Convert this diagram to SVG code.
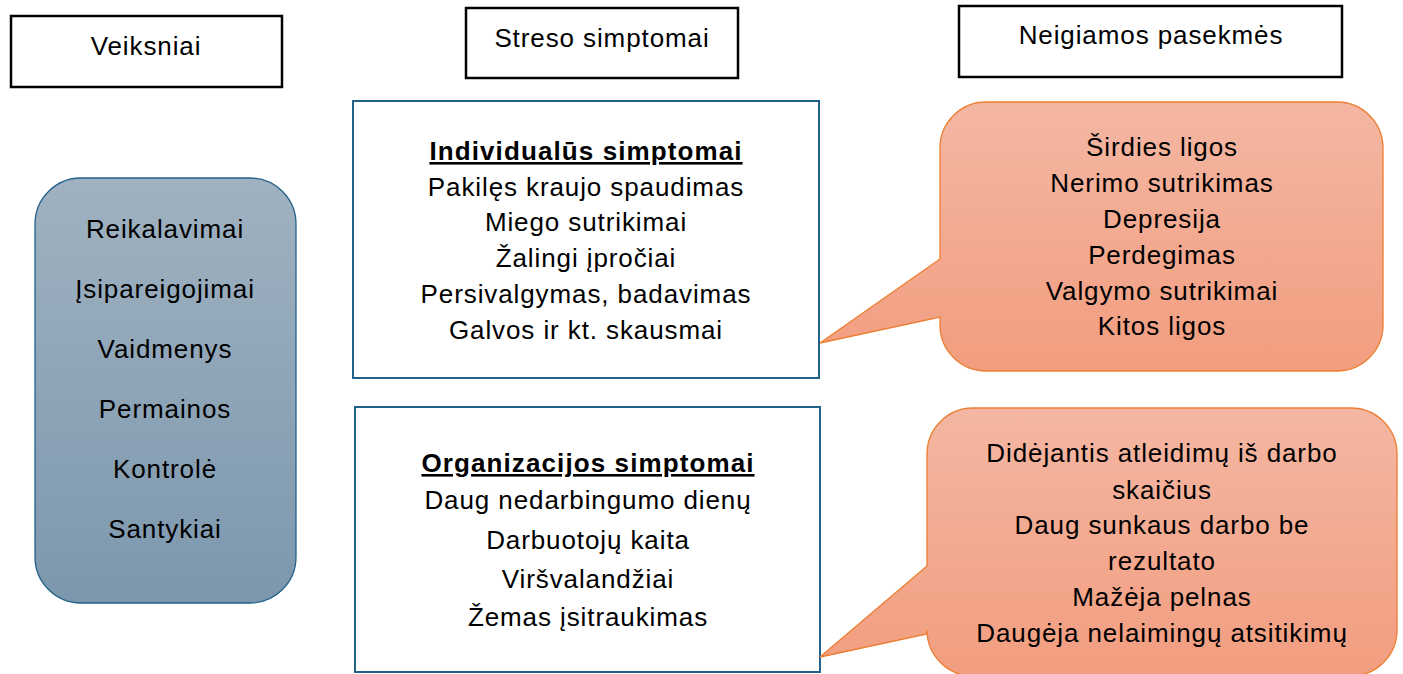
<svg xmlns="http://www.w3.org/2000/svg" width="1403" height="674" viewBox="0 0 1403 674">
<style>
text{font-family:"Liberation Sans",Arial,sans-serif;font-size:26px;letter-spacing:0.9px;fill:#000;text-anchor:middle}
.hdr{fill:#fff;stroke:#000;stroke-width:2.5}
.sym{fill:#fff;stroke:#236189;stroke-width:2}
.ttl{font-weight:bold;text-decoration:underline;letter-spacing:1.1px}
.call{fill:url(#og);stroke:#ED7D31;stroke-width:1.3}
</style>
<defs>
<linearGradient id="bg" x1="0" y1="0" x2="0" y2="1"><stop offset="0" stop-color="#A0B2C1"/><stop offset="1" stop-color="#7C97AD"/></linearGradient>
<linearGradient id="og" x1="0" y1="0" x2="0" y2="1"><stop offset="0" stop-color="#F4B7A3"/><stop offset="1" stop-color="#F29D7F"/></linearGradient>
</defs>
<rect width="1403" height="674" fill="#fff"/>
<g id="h1"><rect class="hdr" x="11" y="16" width="271" height="71"/><text x="146" y="55">Veiksniai</text></g>
<g id="h2"><rect class="hdr" x="466" y="8" width="272" height="70"/><text x="602" y="47">Streso simptomai</text></g>
<g id="h3"><rect class="hdr" x="959" y="6" width="383" height="71"/><text x="1151" y="44">Neigiamos pasekmės</text></g>
<g id="factors">
<rect x="35" y="178" width="261" height="425" rx="46" fill="url(#bg)" stroke="#236189" stroke-width="1.3"/>
<text x="165" y="238">Reikalavimai</text>
<text x="165" y="298">Įsipareigojimai</text>
<text x="165" y="358">Vaidmenys</text>
<text x="165" y="418">Permainos</text>
<text x="165" y="478">Kontrolė</text>
<text x="165" y="538">Santykiai</text>
</g>
<g id="ind">
<rect class="sym" x="353" y="101" width="466" height="277"/>
<text class="ttl" x="586" y="160">Individualūs simptomai</text>
<text x="586" y="196">Pakilęs kraujo spaudimas</text>
<text x="586" y="231">Miego sutrikimai</text>
<text x="586" y="267">Žalingi įpročiai</text>
<text x="586" y="303">Persivalgymas, badavimas</text>
<text x="586" y="339">Galvos ir kt. skausmai</text>
</g>
<g id="org">
<rect class="sym" x="355" y="407" width="465" height="265"/>
<text class="ttl" x="588" y="472">Organizacijos simptomai</text>
<text x="588" y="509">Daug nedarbingumo dienų</text>
<text x="588" y="549">Darbuotojų kaita</text>
<text x="588" y="588">Viršvalandžiai</text>
<text x="588" y="626">Žemas įsitraukimas</text>
</g>
<g id="conn">
<g id="c1">
<path class="call" d="M986,102 H1337 A46,46 0 0 1 1383,148 V325 A46,46 0 0 1 1337,371 H986 A46,46 0 0 1 940,325 V317 L820,343 L940,259 V148 A46,46 0 0 1 986,102 Z"/>
<text x="1162" y="156">Širdies ligos</text>
<text x="1162" y="192">Nerimo sutrikimas</text>
<text x="1162" y="228">Depresija</text>
<text x="1162" y="264">Perdegimas</text>
<text x="1162" y="300">Valgymo sutrikimai</text>
<text x="1162" y="335">Kitos ligos</text>
</g>
<g id="c2">
<path class="call" d="M973,408 H1351 A46,46 0 0 1 1397,454 V630 A46,46 0 0 1 1351,676 H973 A46,46 0 0 1 927,630 V634 L820,657 L927,566 V454 A46,46 0 0 1 973,408 Z"/>
<text x="1162" y="462">Didėjantis atleidimų iš darbo</text>
<text x="1162" y="499">skaičius</text>
<text x="1162" y="534">Daug sunkaus darbo be</text>
<text x="1162" y="570">rezultato</text>
<text x="1162" y="606">Mažėja pelnas</text>
<text x="1162" y="642">Daugėja nelaimingų atsitikimų</text>
</g>
</g>
</svg>
